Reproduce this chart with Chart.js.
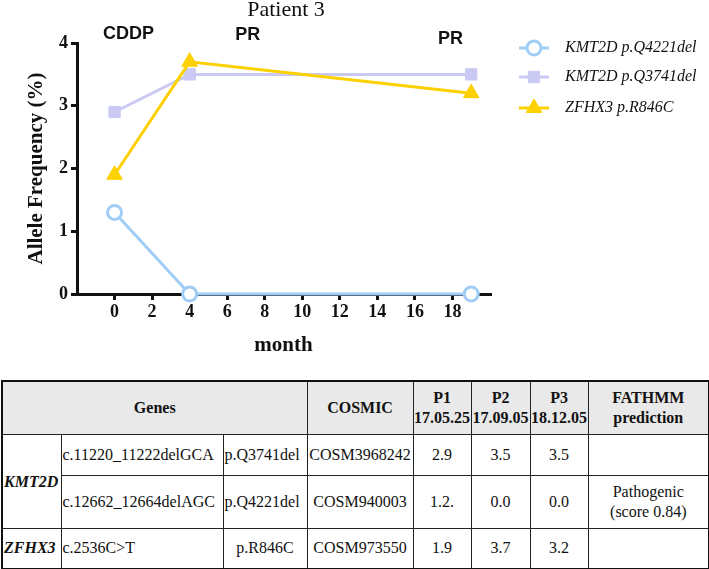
<!DOCTYPE html>
<html>
<head>
<meta charset="utf-8">
<script src="https://cdn.jsdelivr.net/npm/chart.js@4.4.1/dist/chart.umd.min.js"></script>
<style>
  html, body { margin: 0; padding: 0; background: #fff; }
  #wrap { position: relative; width: 709px; height: 569px; overflow: hidden; }
  #chartBox { position: absolute; left: 0; top: 0; width: 709px; height: 372px; }
  table {
    position: absolute; left: 1px; top: 380px; width: 707px;
    border-collapse: collapse; border: 2.5px solid #111; table-layout: fixed;
  }
  td, th {
    border: 1.5px solid #222; padding: 0 1px; line-height: 20px;
    font-family: 'Liberation Serif', serif; font-size: 16px; color: #111; white-space: nowrap;
  }
  th { background: #e9e9e9; font-weight: bold; height: 52px; text-align: center; padding: 0; }
  td { text-align: center; }
  td.gene { font-weight: bold; font-style: italic; text-align: left; padding-left: 1px; }
  td.left { text-align: left; }
</style>
</head>
<body>
<div id="wrap">
  <div id="chartBox"><canvas id="afChart"></canvas></div>
  <table id="mutTable"></table>
</div>
<script>
// ---- chart data ----
const months = [0, 4, 19];
const seriesLabels = ['KMT2D p.Q4221del', 'KMT2D p.Q3741del', 'ZFHX3 p.R846C'];
const q4221del = [1.3, 0, 0];
const q3741del = [2.9, 3.5, 3.5];
const r846c = [1.9, 3.7, 3.2];
const xTicks = [0, 2, 4, 6, 8, 10, 12, 14, 16, 18];
const yTicks = [0, 1, 2, 3, 4];
const phaseLabels = ['CDDP', 'PR', 'PR'];
const phaseMonths = [0.75, 7.1, 17.9];

// ---- table data ----
const tableHead = ['Genes', 'COSMIC', 'P1<br>17.05.25', 'P2<br>17.09.05', 'P3<br>18.12.05', 'FATHMM<br>prediction'];
const geneNames = ['KMT2D', 'KMT2D', 'ZFHX3'];
const cdnaChanges = ['c.11220_11222delGCA', 'c.12662_12664delAGC', 'c.2536C&gt;T'];
const proteinChanges = ['p.Q3741del', 'p.Q4221del', 'p.R846C'];
const cosmicIds = ['COSM3968242', 'COSM940003', 'COSM973550'];
const p1Values = ['2.9', '1.2.', '1.9'];
const p2Values = ['3.5', '0.0', '3.7'];
const p3Values = ['3.5', '0.0', '3.2'];
const fathmm = ['', 'Pathogenic<br>(score 0.84)', ''];

const colBlue = '#9fcdf6';
const colLav = '#c9c9f4';
const colYel = '#fdd000';

function buildTable() {
    const t = document.getElementById('mutTable');
    const widths = [59, 162, 84, 106, 58, 59, 58, 121];
    let html = '<colgroup>' + widths.map(w => `<col style="width:${w}px">`).join('') + '</colgroup>';
    html += '<tr>' + `<th colspan="3">${tableHead[0]}</th>` +
        tableHead.slice(1).map(h => `<th>${h}</th>`).join('') + '</tr>';
    const heights = [41, 53, 40];
    for (let i = 0; i < geneNames.length; i++) {
        html += `<tr style="height:${heights[i]}px">`;
        if (i === 0 || geneNames[i] !== geneNames[i - 1]) {
            let span = 1;
            while (geneNames[i + span] === geneNames[i]) span++;
            html += `<td class="gene" rowspan="${span}">${geneNames[i]}</td>`;
        }
        const pClass = i === 2 ? '' : 'left';
        html += `<td class="left">${cdnaChanges[i]}</td><td class="${pClass}">${proteinChanges[i]}</td>` +
            `<td>${cosmicIds[i]}</td><td>${p1Values[i]}</td><td>${p2Values[i]}</td><td>${p3Values[i]}</td><td>${fathmm[i]}</td></tr>`;
    }
    t.innerHTML = html;
}

// title, phase labels and line+marker legend
const decorPlugin = {
    id: 'decor',
    afterDraw(chart) {
        const ctx = chart.ctx;
        const xs = chart.scales.x;
        ctx.save();
        ctx.fillStyle = '#111';
        ctx.textAlign = 'center';
        ctx.textBaseline = 'middle';
        ctx.font = '22px "Liberation Serif", serif';
        ctx.fillText('Patient 3', 286, 10);

        ctx.font = 'bold 18px "Liberation Sans", sans-serif';
        const phaseY = [34, 35, 39];
        phaseLabels.forEach((lab, i) => {
            ctx.fillText(lab, xs.getPixelForValue(phaseMonths[i]), phaseY[i]);
        });

        // legend
        const rowY = [48, 77, 108];
        chart.data.datasets.forEach((ds, i) => {
            const y = rowY[i];
            ctx.strokeStyle = ds.borderColor;
            ctx.lineWidth = 3;
            ctx.beginPath();
            ctx.moveTo(519, y);
            ctx.lineTo(549, y);
            ctx.stroke();
            ctx.fillStyle = ds.pointBackgroundColor;
            ctx.strokeStyle = ds.borderColor;
            ctx.lineWidth = ds.pointBorderWidth;
            Chart.helpers.drawPoint(ctx, {
                pointStyle: ds.pointStyle, radius: ds.pointRadius,
                borderWidth: ds.pointBorderWidth, rotation: 0
            }, 534, y);
            ctx.fillStyle = '#111';
            ctx.textAlign = 'left';
            ctx.font = 'italic 16px "Liberation Serif", serif';
            ctx.fillText(ds.label, 565, y);
        });
        ctx.restore();
    }
};

function setupChart() {
    const toPts = vals => months.map((m, i) => ({ x: m, y: vals[i] }));
    const boldTick = { family: '"Liberation Serif", serif', size: 18, weight: 'bold' };

    new Chart(document.getElementById('afChart'), {
        type: 'line',
        data: {
            datasets: [
                {
                    label: seriesLabels[0], data: toPts(q4221del),
                    borderColor: colBlue, pointBackgroundColor: '#fff',
                    pointStyle: 'circle', pointRadius: 7, pointBorderWidth: 3, order: 1
                },
                {
                    label: seriesLabels[1], data: toPts(q3741del),
                    borderColor: colLav, pointBackgroundColor: colLav,
                    pointStyle: 'rect', pointRadius: 8, pointBorderWidth: 1, order: 2
                },
                {
                    label: seriesLabels[2], data: toPts(r846c),
                    borderColor: colYel, pointBackgroundColor: colYel,
                    pointStyle: 'triangle', pointRadius: 9, pointBorderWidth: 1, order: 0
                }
            ].map(d => Object.assign(d, { borderWidth: 3, tension: 0, clip: false, pointHoverRadius: d.pointRadius }))
        },
        options: {
            responsive: true,
            maintainAspectRatio: false,
            animation: false,
            layout: { padding: { left: 0, top: 43, right: 219, bottom: 0 } },
            plugins: { legend: { display: false }, tooltip: { enabled: false }, title: { display: false } },
            scales: {
                x: {
                    type: 'linear', min: -2, max: 20,
                    afterBuildTicks: s => { s.ticks = xTicks.map(v => ({ value: v })); },
                    afterFit: s => { s.height = 78; },
                    border: { display: true, color: '#111', width: 3 },
                    grid: { drawOnChartArea: false, color: '#111', lineWidth: 3, tickLength: 6 },
                    ticks: { color: '#111', font: boldTick, padding: 2, maxRotation: 0 },
                    title: {
                        display: true, text: 'month', color: '#111',
                        font: { family: '"Liberation Serif", serif', size: 21, weight: 'bold' },
                        padding: { top: 0, bottom: 14 }
                    }
                },
                y: {
                    min: 0, max: 4,
                    afterBuildTicks: s => { s.ticks = yTicks.map(v => ({ value: v })); },
                    afterFit: s => { s.width = 77; },
                    border: { display: true, color: '#111', width: 3 },
                    grid: { drawOnChartArea: false, color: '#111', lineWidth: 3, tickLength: 6 },
                    ticks: { color: '#111', font: boldTick, padding: 3 },
                    title: {
                        display: true, text: 'Allele Frequency (%)', color: '#111',
                        font: { family: '"Liberation Serif", serif', size: 21, weight: 'bold' },
                        padding: { top: 24, bottom: 0 }
                    }
                }
            }
        },
        plugins: [decorPlugin]
    });
}

buildTable();
setupChart();
</script>
</body>
</html>
